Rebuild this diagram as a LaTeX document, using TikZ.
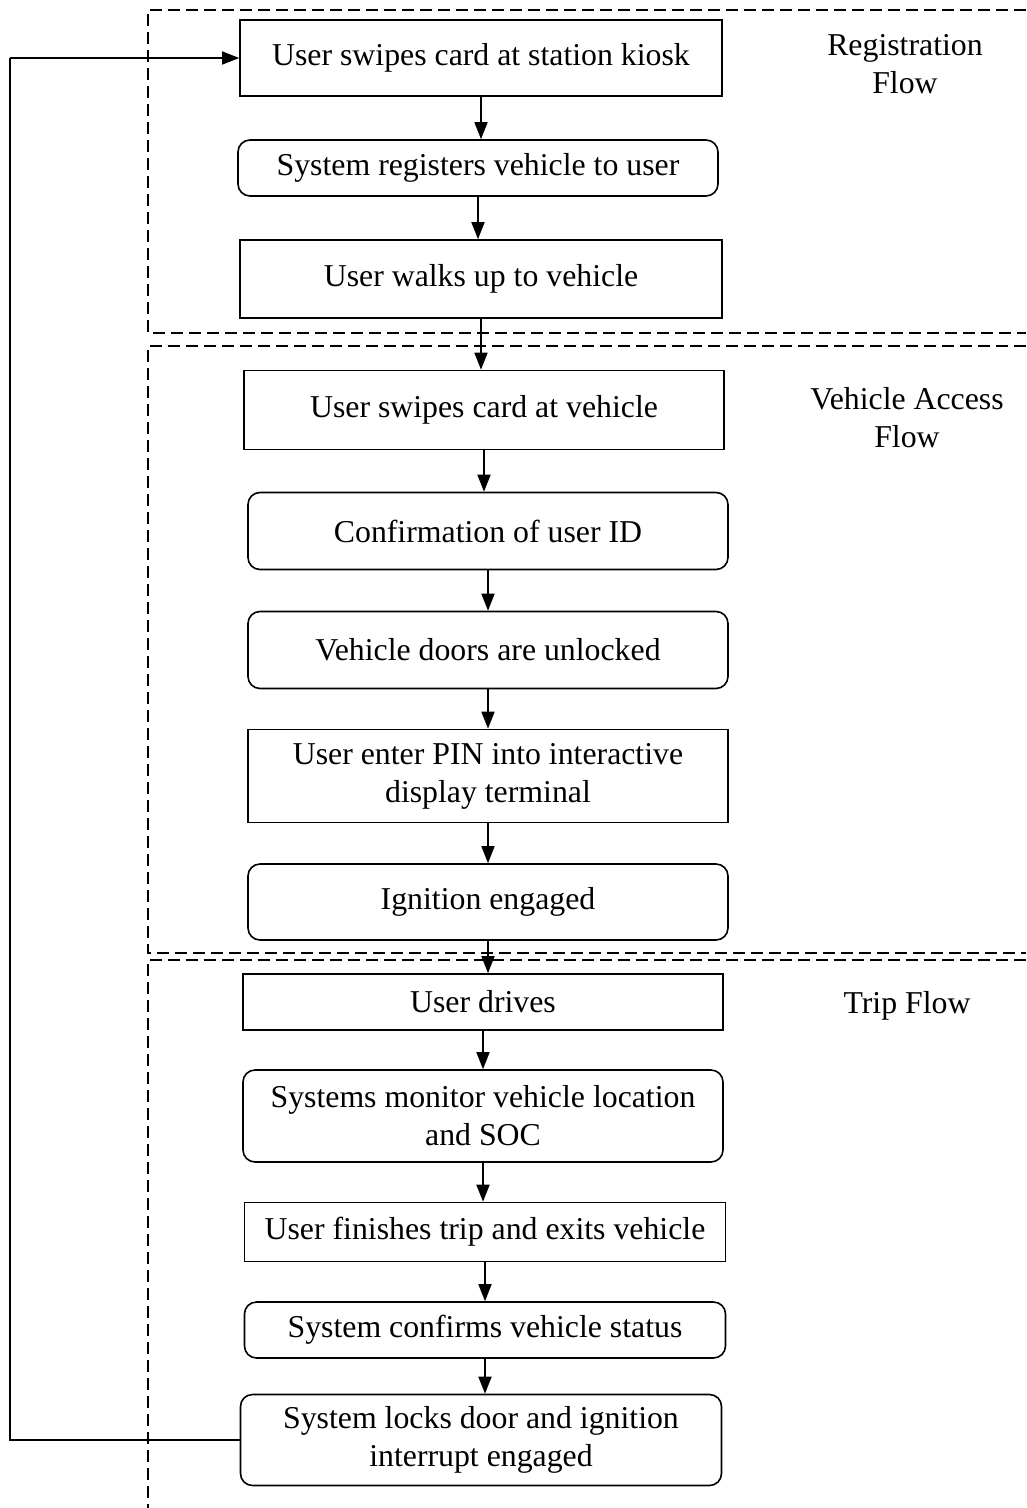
\documentclass[tikz,border=0pt]{standalone}
\usepackage{fontspec}
\setmainfont{Liberation Serif}
\usetikzlibrary{arrows.meta}
\begin{document}
\begin{tikzpicture}[x=1pt,y=-1pt,
  every node/.style={font=\fontsize{31.8}{38}\selectfont, inner sep=0pt, align=center},
  sqbox/.style={draw, line width=1.6pt, rectangle},
  rdbox/.style={draw, line width=1.6pt, rectangle, rounded corners=12pt},
  arr/.style={line width=1.6pt, -{Triangle[length=17pt,width=13pt]}},
  fb/.style={line width=1.3pt},
  dsh/.style={line width=1.5pt, dash pattern=on 12pt off 6pt},
  lbl/.style={}]
\useasboundingbox (0,0) rectangle (1026,1508);
\fill[white] (0,0) rectangle (1026,1508);
% section frames
\draw[dsh] (1026,10) -- (148,10) -- (148,333) -- (1026,333);
\draw[dsh] (1026,346) -- (148,346) -- (148,953) -- (1026,953);
\draw[dsh] (1026,960) -- (148,960) -- (148,1508);
% boxes
\node[sqbox, minimum width=482pt, minimum height=76pt] (b1) at (481,58) {User swipes card at station kiosk};
\node[rdbox, minimum width=480pt, minimum height=56pt] (b2) at (478,168) {System registers vehicle to user};
\node[sqbox, minimum width=482pt, minimum height=78pt] (b3) at (481,279) {User walks up to vehicle};
\node[sqbox, minimum width=480pt, minimum height=79pt] (b4) at (484,410) {User swipes card at vehicle};
\node[rdbox, minimum width=480pt, minimum height=77pt] (b5) at (488,531) {Confirmation of user ID};
\node[rdbox, minimum width=480pt, minimum height=77pt] (b6) at (488,650) {Vehicle doors are unlocked};
\node[sqbox, minimum width=480pt, minimum height=93pt] (b7) at (488,776) {User enter PIN into interactive\\display terminal};
\node[rdbox, minimum width=480pt, minimum height=76pt] (b8) at (488,902) {Ignition engaged};
\node[sqbox, minimum width=480pt, minimum height=56pt] (b9) at (483,1002) {User drives};
\node[rdbox, minimum width=480pt, minimum height=92pt] (b10) at (483,1116) {Systems monitor vehicle location\\and SOC};
\node[sqbox, minimum width=481pt, minimum height=59pt] (b11) at (485,1232) {User finishes trip and exits vehicle};
\node[rdbox, minimum width=481pt, minimum height=56pt] (b12) at (485,1330) {System confirms vehicle status};
\node[rdbox, minimum width=481pt, minimum height=91pt] (b13) at (481,1440) {System locks door and ignition\\interrupt engaged};
% section labels
\node[lbl] (l1) at (905,64) {Registration\\Flow};
\node[lbl] (l2) at (907,418) {Vehicle Access\\Flow};
\node[lbl] (l3) at (907,1006) {Trip Flow};
% arrows
\draw[arr] (b1.south) -- (b1.south |- b2.north);
\draw[arr] (b2.south) -- (b2.south |- b3.north);
\draw[arr] (b3.south) -- (b3.south |- b4.north);
\draw[arr] (b4.south) -- (b4.south |- b5.north);
\draw[arr] (b5.south) -- (b5.south |- b6.north);
\draw[arr] (b6.south) -- (b6.south |- b7.north);
\draw[arr] (b7.south) -- (b7.south |- b8.north);
\draw[arr] (b8.south) -- (b8.south |- b9.north);
\draw[arr] (b9.south) -- (b9.south |- b10.north);
\draw[arr] (b10.south) -- (b10.south |- b11.north);
\draw[arr] (b11.south) -- (b11.south |- b12.north);
\draw[arr] (b12.south) -- (b12.south |- b13.north);
% feedback loop
\coordinate (lc) at (10,0);
\draw[fb] (b13.west) -- (b13.west -| lc) -- (b1.west -| lc);
\draw[arr, line width=1.3pt] (b1.west -| lc) -- (b1.west);
\end{tikzpicture}
\end{document}
